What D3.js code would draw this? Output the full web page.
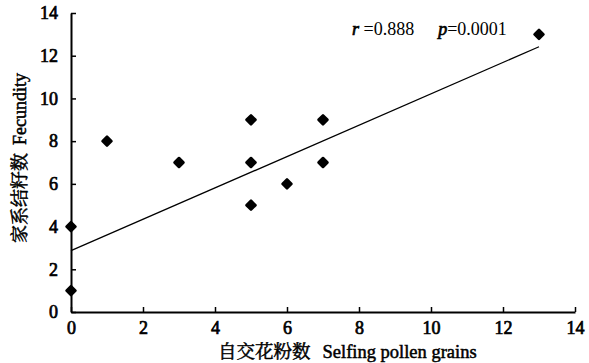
<!DOCTYPE html>
<html>
<head>
<meta charset="utf-8">
<script src="https://cdn.jsdelivr.net/npm/d3@7"></script>
</head>
<body style="margin:0">
<script>
// data
const selfing = [0, 0, 1, 3, 5, 5, 5, 6, 7, 7, 13];
const fecundity = [1, 4, 8, 7, 9, 7, 5, 6, 9, 7, 13];
const fitLine = [[0, 2.87], [13, 12.42]];
const xTicks = [0, 2, 4, 6, 8, 10, 12, 14];
const yTicks = [0, 2, 4, 6, 8, 10, 12, 14];

const serif = '"Liberation Serif"';
const cjk = '"Noto Serif CJK SC"';

const width = 589, height = 363;
const svg = d3.select('body').append('svg')
  .attr('width', width).attr('height', height);

const x = d3.scaleLinear().domain([0, 14]).range([71, 575]);
const y = d3.scaleLinear().domain([0, 14]).range([312, 13]);

// regular face with a thin outline so it reads like the scanned bold type
function heavy(sel, w) {
  sel.attr('stroke', '#000').attr('stroke-width', w).attr('fill', '#000');
}

// axes, ticks pointing inwards
const xAxis = svg.append('g')
  .attr('transform', `translate(0,${y(0)})`)
  .call(d3.axisBottom(x).tickValues(xTicks).tickSizeInner(-5).tickSizeOuter(0).tickPadding(12));
const yAxis = svg.append('g')
  .attr('transform', `translate(${x(0)},0)`)
  .call(d3.axisLeft(y).tickValues(yTicks).tickSizeInner(-5).tickSizeOuter(0).tickPadding(12));

[xAxis, yAxis].forEach(g => {
  g.attr('font-family', null).attr('font-size', null);
  g.select('.domain').attr('stroke', '#000').attr('stroke-width', 2);
  g.selectAll('.tick line').attr('stroke', '#000').attr('stroke-width', 1.5);
  g.selectAll('.tick text')
    .style('font-family', serif)
    .style('font-size', '18px')
    .call(heavy, 0.7);
});
xAxis.selectAll('.tick text').attr('dy', '0.55em');
yAxis.selectAll('.tick text').attr('dx', '-1');

// regression line
svg.append('path')
  .datum(fitLine)
  .attr('fill', 'none').attr('stroke', '#000').attr('stroke-width', 1.3)
  .attr('d', d3.line().x(d => x(d[0])).y(d => y(d[1])));

// points
const pts = selfing.map((v, i) => [v, fecundity[i]]);
svg.append('g').selectAll('path')
  .data(pts)
  .enter().append('path')
  .attr('transform', d => `translate(${x(d[0])},${y(d[1])}) rotate(45)`)
  .attr('d', d3.symbol().type(d3.symbolSquare).size(40))
  .attr('fill', '#000').attr('stroke', '#000').attr('stroke-width', 2.6)
  .attr('stroke-linejoin', 'round');

// statistics annotation
const stat = svg.append('text').attr('x', 352).attr('y', 35)
  .style('font-family', serif).style('font-size', '18px');
stat.append('tspan').style('font-style', 'italic').attr('stroke', '#000').attr('stroke-width', 0.7).text('r');
stat.append('tspan').text(' =0.888');
stat.append('tspan').attr('dx', 24).style('font-style', 'italic').attr('stroke', '#000').attr('stroke-width', 0.7).text('p');
stat.append('tspan').text('=0.0001');

// axis titles
const xt = svg.append('text').attr('x', 218).attr('y', 358).style('font-size', '18.5px');
xt.append('tspan').style('font-family', cjk).call(heavy, 0.5).text('自交花粉数');
xt.append('tspan').attr('dx', 12).style('font-family', serif).call(heavy, 0.5).text('Selfing pollen grains');

const yt = svg.append('text')
  .attr('transform', 'translate(26,158) rotate(-90)')
  .attr('text-anchor', 'middle').style('font-size', '18px');
yt.append('tspan').style('font-family', cjk).call(heavy, 0.5).text('家系结籽数');
yt.append('tspan').attr('dx', 8).style('font-family', serif).call(heavy, 0.5).text('Fecundity');
</script>
</body>
</html>
